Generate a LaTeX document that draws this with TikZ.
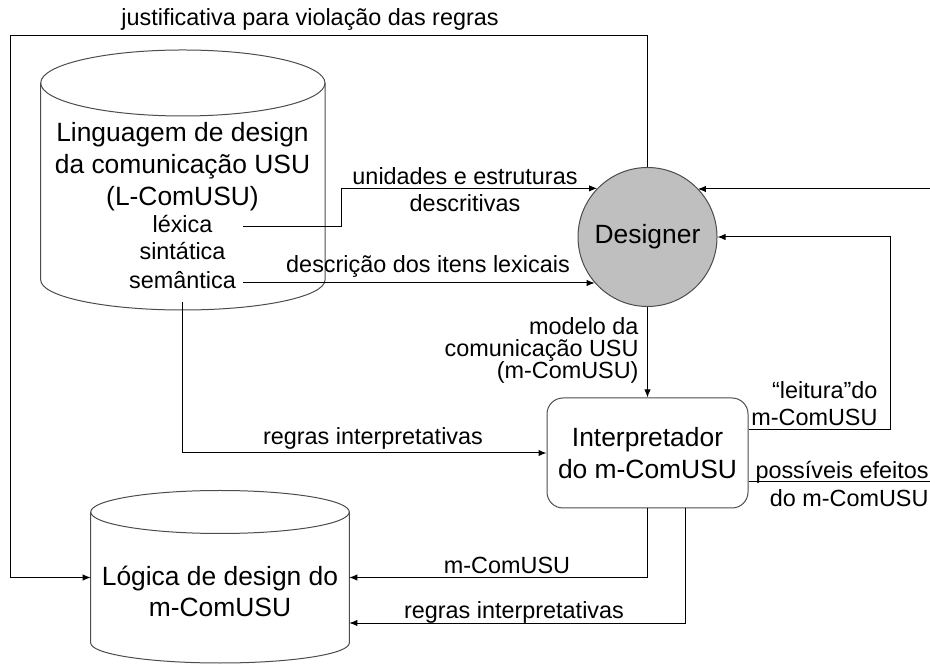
\documentclass[tikz,border=0pt]{standalone}
\usepackage{fontspec}
\setmainfont{Liberation Sans}
\usepackage{tikz}
\usetikzlibrary{arrows.meta,positioning}
\definecolor{discgray}{rgb}{0.75,0.75,0.75}
\definecolor{edgegray}{rgb}{0.3,0.3,0.3}
\newcommand{\boxfont}{\fontsize{13.2pt}{16pt}\selectfont}
\newcommand{\arcfont}{\fontsize{11.7pt}{13.5pt}\selectfont}
\tikzstyle{flow}=[-{Latex[length=4pt,width=3.2pt]}]
\tikzstyle{dbline}=[draw=edgegray]
\tikzstyle{Abody}=[inner sep=0,outer sep=0]
\tikzstyle{Aagent}=[draw=edgegray,fill=discgray,circle,minimum size=69.5pt,inner sep=0,font=\boxfont]
\tikzstyle{Aproc}=[draw=edgegray,rounded corners=8pt,minimum width=100.5pt,minimum height=55pt,align=center,font=\boxfont]
\tikzstyle{Atext}=[inner sep=0,align=center,font=\boxfont]
\tikzstyle{Albl}=[inner sep=0,align=center,font=\arcfont]
\tikzstyle{Aitem}=[inner xsep=0,inner ysep=3.5pt,minimum width=60pt,font=\arcfont,text height=8.8pt,text depth=2.9pt]

\begin{document}
\begin{tikzpicture}[x=0.5pt,y=0.5pt,line width=0.5pt]
\useasboundingbox (0,0) rectangle (930,663);

% stores
\node[Abody,minimum width=142.15pt,minimum height=98.5pt] (lingua) at (182.85,481.5) {};
\node[Abody,minimum width=129.3pt,minimum height=65.5pt] (logica) at (220,85.5) {};
\draw[dbline] (lingua.north west) -- (lingua.south west)
  arc[start angle=180,end angle=360,x radius=71.075pt,y radius=15pt] -- (lingua.north east);
\draw[dbline] (lingua.north) ellipse[x radius=71.075pt,y radius=16.5pt];
\draw[dbline] (logica.north west) -- (logica.south west)
  arc[start angle=180,end angle=360,x radius=64.65pt,y radius=10pt] -- (logica.north east);
\draw[dbline] (logica.north) ellipse[x radius=64.65pt,y radius=10.75pt];

\node[Atext] (linguatxt) at (182.5,496.5) {Linguagem de design\\da comunicação USU\\(L-ComUSU)};
\node[Aitem] (lex) at (182.5,436) {léxica};
\node[Aitem] (sin) at (182.5,409) {sintática};
\node[Aitem] (sem) at (182.5,380) {semântica};
\node[Atext,font=\fontsize{13.2pt}{15.5pt}\selectfont] (logicatxt) at (220,71.5) {Lógica de design do\\m-ComUSU};

% agent and interpreter
\node[Aagent] (designer) at (647.5,426) {Designer};
\node[Aproc] (interp) at (647.5,210) {Interpretador\\do m-ComUSU};

\coordinate (kneeU) at (341.7,0);
\coordinate (backX) at (890,426);
\coordinate (topL) at (10,627);
\coordinate (effOut) at (930,181);
\coordinate (effIn) at (930,474);

\draw[flow] (lex.east) -- (lex.east -| kneeU) |- (designer.136);
\draw[flow] (sem.east) -- (sem.east -| designer.221);
\draw[flow] (sem.south) |- (interp.west);
\draw[flow] (designer.south) -- (interp.north);
\draw[flow] ([yshift=11.5pt]interp.east) -| (backX) -- (designer.east);
\draw ([yshift=-14.5pt]interp.east) -- (effOut);
\draw[flow] (effIn) -- (effIn -| designer.44);
\draw[flow] (interp.south) |- (logica.east);
\draw[flow] ([xshift=18.75pt]interp.south) |- ([yshift=-22.75pt]logica.east);
\draw[flow] (designer.north) |- (topL) |- (logica.west);

% labels
\node[Albl] (justif) at (310,643) {justificativa para violação das regras};
\node[Albl] (unid) at (465,473) {unidades e estruturas\\descritivas};
\node[Albl] (descr) at (428,396) {descrição dos itens lexicais};
\node[Albl] (regrasA) at (373,225) {regras interpretativas};
\node[Albl,align=right,anchor=east,font=\fontsize{11.7pt}{11pt}\selectfont] (modelo) at (639,313) {modelo da\\comunicação USU\\(m-ComUSU)};
\node[Albl,align=right,anchor=east] (leit) at (878,259.5) {“leitura”do\\m-ComUSU};
\node[Albl,align=right,anchor=east,font=\fontsize{11.7pt}{14pt}\selectfont] (efeit) at (929,179) {possíveis efeitos\\do m-ComUSU};
\node[Albl] (mcom) at (507,98) {m-ComUSU};
\node[Albl] (regrasB) at (514,51) {regras interpretativas};

\end{tikzpicture}
\end{document}
